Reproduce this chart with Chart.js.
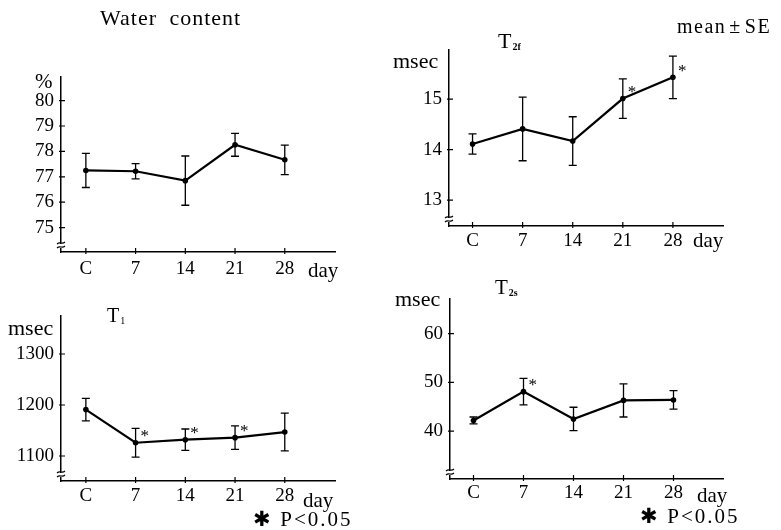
<!DOCTYPE html>
<html>
<head>
<meta charset="utf-8">
<script src="https://cdn.jsdelivr.net/npm/chart.js@4.4.1/dist/chart.umd.min.js"></script>
<style>
  body{margin:0;background:#fff;width:781px;height:530px;position:relative;overflow:hidden;
       font-family:"Liberation Serif","Times New Roman",serif;color:#000}
  canvas{position:absolute}
  .lbl{position:absolute;white-space:nowrap;line-height:1;font-size:21px}
  .sub{font-size:10px;font-weight:bold;position:relative;top:2px;margin-left:1px}
</style>
</head>
<body>

<canvas id="waterChart" style="left:0;top:0" width="390" height="280"></canvas>
<canvas id="t2fChart" style="left:390px;top:0" width="391" height="280"></canvas>
<canvas id="t1Chart" style="left:0;top:280px" width="390" height="250"></canvas>
<canvas id="t2sChart" style="left:390px;top:280px" width="391" height="250"></canvas>

<div class="lbl" style="left:100px;top:7px;font-size:22px;letter-spacing:1px;word-spacing:6px">Water content</div>
<div class="lbl" style="left:35px;top:71px">%</div>
<div class="lbl" style="left:308px;top:260px">day</div>

<div class="lbl" style="left:677px;top:16px;font-size:20px;letter-spacing:1.5px">mean<span style="margin:0 3px">±</span>SE</div>
<div class="lbl" style="left:498px;top:30px;font-size:22px">T<span class="sub">2f</span></div>
<div class="lbl" style="left:393px;top:50px;font-size:22px">msec</div>
<div class="lbl" style="left:693px;top:230px">day</div>

<div class="lbl" style="left:107px;top:305px;font-size:20px">T<span class="sub" style="font-weight:normal">1</span></div>
<div class="lbl" style="left:8px;top:317px;font-size:22px">msec</div>
<div class="lbl" style="left:303px;top:490px">day</div>
<div class="lbl" style="left:253px;top:509px;letter-spacing:2px">✱ P&lt;0.05</div>

<div class="lbl" style="left:495px;top:277px">T<span class="sub">2s</span></div>
<div class="lbl" style="left:395px;top:288px;font-size:22px">msec</div>
<div class="lbl" style="left:697px;top:485px">day</div>
<div class="lbl" style="left:640px;top:506px;letter-spacing:2px">✱ P&lt;0.05</div>

<script>
/* ==========================================
   DATA
========================================== */

const dayLabels = ["C", "7", "14", "21", "28"];

const waterMean = [77.25, 77.22, 76.85, 78.26, 77.67];
const waterSE   = [0.67, 0.30, 0.97, 0.45, 0.58];
const waterSig  = [false, false, false, false, false];
const waterTicks = [75, 76, 77, 78, 79, 80];

const t2fMean = [14.11, 14.41, 14.17, 15.01, 15.43];
const t2fSE   = [0.20, 0.63, 0.48, 0.39, 0.42];
const t2fSig  = [false, false, false, true, true];
const t2fTicks = [13, 14, 15];

const t1Mean = [1191, 1126, 1132, 1136, 1147];
const t1SE   = [22, 28, 21, 23, 37];
const t1Sig  = [false, true, true, true, false];
const t1Ticks = [1100, 1200, 1300];

const t2sMean = [42.2, 48.1, 42.5, 46.3, 46.4];
const t2sSE   = [0.7, 2.7, 2.4, 3.4, 1.9];
const t2sSig  = [false, true, false, false, false];
const t2sTicks = [40, 50, 60];


/* ==========================================
   ERROR BARS, TICK MARKS, AXIS BREAK
========================================== */

const axisDecor = {
  id: "axisDecor",
  afterDatasetsDraw(chart) {
    const ctx = chart.ctx;
    const xs = chart.scales.x;
    const ys = chart.scales.y;
    const ds = chart.data.datasets[0];
    const a = chart.chartArea;

    ctx.save();
    ctx.strokeStyle = "#000";
    ctx.fillStyle = "#000";

    // error bars + significance marks
    ctx.lineWidth = 1.3;
    ds.data.forEach((p, i) => {
      const px = xs.getPixelForValue(p.x);
      const hi = ys.getPixelForValue(p.y + ds.se[i]);
      const lo = ys.getPixelForValue(p.y - ds.se[i]);
      ctx.beginPath();
      ctx.moveTo(px, hi); ctx.lineTo(px, lo);
      ctx.moveTo(px - 4, hi); ctx.lineTo(px + 4, hi);
      ctx.moveTo(px - 4, lo); ctx.lineTo(px + 4, lo);
      ctx.stroke();
      if (ds.sig[i]) {
        ctx.font = "17px 'Liberation Serif'";
        ctx.textAlign = "left";
        ctx.textBaseline = "middle";
        ctx.fillText("*", px + 5, ys.getPixelForValue(p.y) - 6);
      }
    });

    // inward tick marks
    ctx.lineWidth = 1.2;
    ctx.beginPath();
    ys.ticks.forEach(t => {
      const py = ys.getPixelForValue(t.value);
      ctx.moveTo(a.left - 2, py); ctx.lineTo(a.left + 4, py);
    });
    xs.ticks.forEach(t => {
      const px = xs.getPixelForValue(t.value);
      ctx.moveTo(px, a.bottom - 4); ctx.lineTo(px, a.bottom + 2);
    });
    ctx.stroke();

    // axis break on y
    ctx.fillStyle = "#fff";
    ctx.fillRect(a.left - 2, a.bottom - 8, 4, 4);
    ctx.lineWidth = 1.1;
    ctx.beginPath();
    [9, 5].forEach(dy => {
      const y0 = a.bottom - dy;
      ctx.moveTo(a.left - 4, y0 + 1);
      ctx.bezierCurveTo(a.left - 1, y0 - 2, a.left + 1, y0 + 2, a.left + 4, y0 - 1);
    });
    ctx.stroke();

    ctx.restore();
  }
};


/* ==========================================
   PANEL BUILDER
========================================== */

function makePanel(id, mean, se, sig, yTicks, yRange, xRange, area) {
  const canvas = document.getElementById(id);
  const W = canvas.width;
  const H = canvas.height;

  return new Chart(canvas.getContext("2d"), {
    type: "line",
    data: {
      datasets: [{
        data: mean.map((v, i) => ({ x: i, y: v })),
        se: se,
        sig: sig,
        borderColor: "#000",
        borderWidth: 2.2,
        pointRadius: 2.8,
        pointBackgroundColor: "#000",
        pointBorderWidth: 0,
        tension: 0
      }]
    },
    options: {
      responsive: false,
      animation: false,
      layout: {
        padding: { left: 0, top: area.top, right: W - area.right, bottom: 0 }
      },
      plugins: {
        legend: { display: false },
        tooltip: { enabled: false }
      },
      scales: {
        x: {
          type: "linear",
          min: xRange[0],
          max: xRange[1],
          grid: { display: false, drawTicks: false },
          border: { color: "#000", width: 1.5 },
          afterBuildTicks: s => { s.ticks = dayLabels.map((d, i) => ({ value: i })); },
          afterFit: s => { s.height = H - area.bottom; },
          ticks: {
            callback: v => dayLabels[v],
            color: "#000",
            font: { family: "Liberation Serif", size: 19 },
            padding: area.gap,
            maxRotation: 0,
            autoSkip: false
          }
        },
        y: {
          min: yRange[0],
          max: yRange[1],
          grid: { display: false, drawTicks: false },
          border: { color: "#000", width: 1.5 },
          afterBuildTicks: s => { s.ticks = yTicks.map(v => ({ value: v })); },
          afterFit: s => { s.width = area.left; },
          ticks: {
            callback: v => String(v),
            color: "#000",
            font: { family: "Liberation Serif", size: 19 },
            padding: 7
          }
        }
      }
    },
    plugins: [axisDecor]
  });
}


makePanel("waterChart", waterMean, waterSE, waterSig, waterTicks,
  [74.04, 80.93], [-0.5, 5.01], { left: 61, top: 77, right: 335, bottom: 252, gap: 6 });

makePanel("t2fChart", t2fMean, t2fSE, t2fSig, t2fTicks,
  [12.49, 15.97], [-0.47, 5.0], { left: 59, top: 50, right: 333, bottom: 226, gap: 4 });

makePanel("t1Chart", t1Mean, t1SE, t1Sig, t1Ticks,
  [1051, 1374.5], [-0.5, 5.01], { left: 61, top: 36, right: 335, bottom: 201, gap: 4 });

makePanel("t2sChart", t2sMean, t2sSE, t2sSig, t2sTicks,
  [30.2, 67.2], [-0.47, 4.99], { left: 60, top: 10, right: 333, bottom: 199, gap: 3 });
</script>
</body>
</html>
